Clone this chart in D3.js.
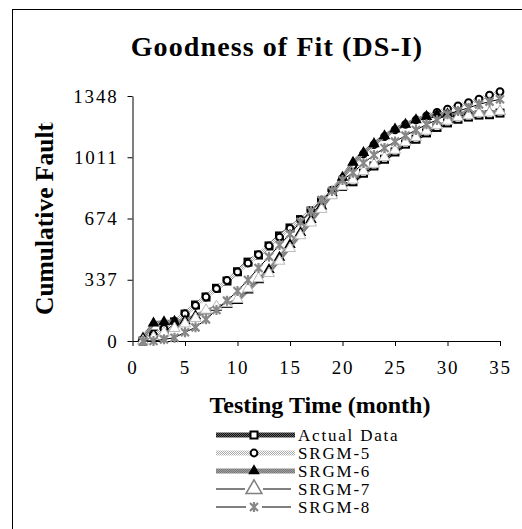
<!DOCTYPE html>
<html>
<head>
<meta charset="utf-8">
<script src="https://cdn.jsdelivr.net/npm/d3@7"></script>
<style>
  body { margin: 0; background: #fff; }
  svg { display: block; }
</style>
</head>
<body>
<div id="chart"></div>
<script>
// Chart size
const width = 522;
const height = 529;

// Data
const months = d3.range(1, 36);
const actualData = [0, 38, 60, 105, 148, 198, 242, 290, 330, 381, 434, 473, 523, 578, 622, 668, 715, 765, 815, 850, 876, 923, 963, 1000, 1040, 1083, 1110, 1145, 1175, 1200, 1220, 1232, 1243, 1245, 1254];
const srgm5 = [0, 32, 68, 108, 150, 196, 242, 288, 333, 380, 428, 475, 523, 572, 620, 668, 718, 772, 830, 895, 965, 1030, 1080, 1124, 1162, 1192, 1216, 1238, 1258, 1276, 1294, 1312, 1331, 1353, 1372];
const srgm6 = [15, 98, 105, 108, 110, 138, 165, 185, 200, 222, 280, 336, 392, 460, 530, 596, 668, 742, 815, 900, 983, 1036, 1085, 1128, 1166, 1192, 1216, 1235, 1246, 1250, 1252, 1254, 1256, 1258, 1262];
const srgm7 = [0, 20, 45, 70, 95, 125, 170, 190, 206, 230, 288, 344, 372, 440, 510, 580, 650, 725, 800, 850, 886, 933, 973, 1010, 1050, 1093, 1120, 1155, 1185, 1210, 1230, 1240, 1253, 1255, 1264];
const srgm8 = [0, 0, 9, 18, 48, 75, 119, 171, 222, 275, 336, 402, 464, 528, 589, 655, 715, 776, 825, 886, 926, 979, 1023, 1062, 1097, 1130, 1161, 1192, 1216, 1247, 1265, 1283, 1302, 1317, 1330];

const seriesNames = ["Actual Data", "SRGM-5", "SRGM-6", "SRGM-7", "SRGM-8"];
const yTicks = [0, 337, 674, 1011, 1348];
const xTicks = [0, 5, 10, 15, 20, 25, 30, 35];

const serif = "'Liberation Serif', 'Times New Roman', serif";

const svg = d3.select("#chart")
    .append("svg")
    .attr("width", width)
    .attr("height", height);

// Hatched fills for the thick lines
const defs = svg.append("defs");
function checker(id, bg, fg) {
    const p = defs.append("pattern")
        .attr("id", id)
        .attr("patternUnits", "userSpaceOnUse")
        .attr("width", 2)
        .attr("height", 2);
    p.append("rect").attr("width", 2).attr("height", 2).attr("fill", bg);
    p.append("rect").attr("width", 1).attr("height", 1).attr("fill", fg);
    p.append("rect").attr("x", 1).attr("y", 1).attr("width", 1).attr("height", 1).attr("fill", fg);
}
checker("hatchDark", "#666", "#111");
checker("hatchLight", "#fff", "#aaa");
checker("hatchMid", "#a0a0a0", "#777");

// Outer frame
svg.append("rect")
    .attr("x", 12.5).attr("y", 9.5)
    .attr("width", 540).attr("height", 540)
    .attr("fill", "none")
    .attr("stroke", "#000");

// Scales
const x = d3.scaleLinear().domain([0, 35]).range([132.5, 500]);
const y = d3.scaleLinear().domain([0, 1348]).range([341, 96]);

// Axes
const yAxis = svg.append("g")
    .attr("transform", "translate(132.5,0)")
    .call(d3.axisLeft(y).tickValues(yTicks).tickFormat(d3.format("d"))
        .tickSize(5).tickSizeOuter(0).tickPadding(9));
const xAxis = svg.append("g")
    .attr("transform", "translate(0,341)")
    .call(d3.axisBottom(x).tickValues(xTicks).tickFormat(d3.format("d"))
        .tickSize(5).tickSizeOuter(0).tickPadding(15));

[xAxis, yAxis].forEach(a => {
    a.select(".domain").attr("stroke", "#000");
    a.selectAll(".tick line").attr("stroke", "#000");
    a.selectAll(".tick text")
        .attr("fill", "#000")
        .style("font-family", serif)
        .style("font-size", "19px")
        .style("letter-spacing", "1.8px");
});

// Series styles
const series = [
    {name: seriesNames[0], values: actualData, stroke: "url(#hatchDark)", lw: 4, marker: "square"},
    {name: seriesNames[1], values: srgm5, stroke: "url(#hatchLight)", lw: 4, marker: "circle"},
    {name: seriesNames[2], values: srgm6, stroke: "url(#hatchMid)", lw: 4, marker: "triangle"},
    {name: seriesNames[3], values: srgm7, stroke: "#808080", lw: 2, marker: "openTriangle"},
    {name: seriesNames[4], values: srgm8, stroke: "#000", lw: 1, marker: "star"}
];

const star = "M-4,-4L4,4M-4,4L4,-4M0,-5L0,5";

function drawMarker(g, type, big) {
    if (type === "square") {
        g.append("rect").attr("x", -3.5).attr("y", -3.5).attr("width", 7).attr("height", 7)
            .attr("fill", "#fff").attr("stroke", "#000").attr("stroke-width", 2);
    } else if (type === "circle") {
        g.append("circle").attr("r", 3.4)
            .attr("fill", "#fff").attr("stroke", "#000").attr("stroke-width", 2);
    } else if (type === "triangle") {
        g.append("path").attr("d", d3.symbol(d3.symbolTriangle, 58)())
            .attr("fill", "#000");
    } else if (type === "openTriangle") {
        g.append("path").attr("d", d3.symbol(d3.symbolTriangle, big ? 110 : 52)())
            .attr("fill", "#fff").attr("stroke", big ? "#808080" : "#bbb").attr("stroke-width", big ? 1.5 : 1);
    } else {
        g.append("path").attr("d", star)
            .attr("fill", "none").attr("stroke", "#888").attr("stroke-width", 2.2);
    }
}

const line = d3.line()
    .x((d, i) => x(months[i]))
    .y(d => y(d));

const plot = svg.append("g");
series.forEach(s => {
    plot.append("path")
        .attr("d", line(s.values))
        .attr("fill", "none")
        .attr("stroke", s.stroke)
        .attr("stroke-width", s.lw);
    s.values.forEach((v, i) => {
        const m = plot.append("g").attr("transform", `translate(${x(months[i])},${y(v)})`);
        drawMarker(m, s.marker, false);
    });
});

// Titles
svg.append("text")
    .attr("x", 277).attr("y", 56)
    .attr("text-anchor", "middle")
    .style("font-family", serif)
    .style("font-weight", "bold")
    .style("font-size", "28px")
    .style("letter-spacing", "1.1px")
    .text("Goodness of Fit (DS-I)");

svg.append("text")
    .attr("x", 320).attr("y", 413)
    .attr("text-anchor", "middle")
    .style("font-family", serif)
    .style("font-weight", "bold")
    .style("font-size", "24px")
    .text("Testing Time (month)");

// The y title runs past the top of its box and gets cut
defs.append("clipPath").attr("id", "yTitleClip")
    .append("rect").attr("x", 0).attr("y", 122).attr("width", 80).attr("height", 250);
svg.append("g")
    .attr("clip-path", "url(#yTitleClip)")
    .append("text")
    .attr("transform", "translate(53,315) rotate(-90)")
    .style("font-family", serif)
    .style("font-weight", "bold")
    .style("font-size", "25.5px")
    .text("Cumulative Faults");

// Legend
const legendY = [435, 453, 471, 489, 507];
const legend = svg.append("g");
series.forEach((s, i) => {
    const ly = legendY[i];
    const g = legend.append("g");
    if (s.marker === "star" || s.marker === "openTriangle") {
        const gap = s.marker === "star" ? 8 : 9;
        g.append("line").attr("x1", 216).attr("x2", 254 - gap).attr("y1", ly).attr("y2", ly)
            .attr("stroke", s.stroke).attr("stroke-width", s.lw);
        g.append("line").attr("x1", 254 + gap).attr("x2", 291).attr("y1", ly).attr("y2", ly)
            .attr("stroke", s.stroke).attr("stroke-width", s.lw);
    } else {
        g.append("rect").attr("x", 216).attr("y", ly - 2.5).attr("width", 79).attr("height", 5)
            .attr("fill", s.stroke);
    }
    const m = g.append("g").attr("transform", `translate(254,${ly})`);
    drawMarker(m, s.marker, true);
    g.append("text")
        .attr("x", 298).attr("y", ly + 6)
        .style("font-family", serif)
        .style("font-size", "17px")
        .style("letter-spacing", "1.8px")
        .text(s.name);
});
</script>
</body>
</html>
